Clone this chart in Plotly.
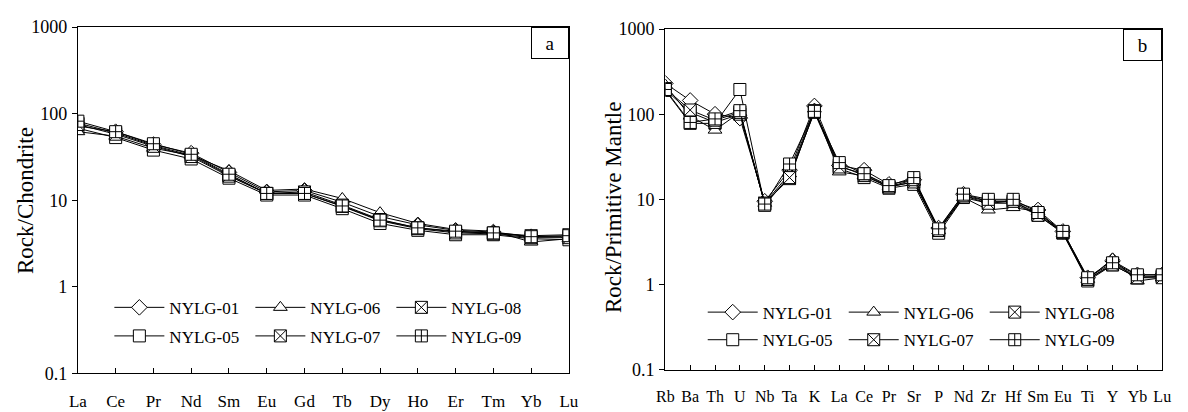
import plotly.graph_objects as go

W, H = 1188, 412

ree = ["La", "Ce", "Pr", "Nd", "Sm", "Eu", "Gd", "Tb", "Dy", "Ho", "Er", "Tm", "Yb", "Lu"]
ree_01 = [72, 62, 44, 35, 21, 12.5, 13, 9.5, 6.5, 5.2, 4.5, 4.3, 3.8, 3.8]
ree_05 = [68, 53, 38, 30, 18, 11.5, 11.5, 8.0, 5.4, 4.5, 4.0, 4.0, 3.6, 3.5]
ree_06 = [62, 55, 40, 33, 22, 13, 13.5, 10.5, 7.2, 5.4, 4.6, 4.4, 3.3, 3.6]
ree_07 = [78, 60, 43, 33, 19.5, 12, 12.5, 8.8, 6.0, 4.8, 4.3, 4.2, 3.9, 4.0]
ree_08 = [75, 58, 42, 32, 19, 12, 12, 8.5, 5.8, 4.7, 4.2, 4.1, 3.7, 3.7]
ree_09 = [82, 62, 45, 34, 20, 12, 12, 8.6, 5.9, 4.8, 4.4, 4.2, 3.8, 3.9]

spd = ["Rb", "Ba", "Th", "U", "Nb", "Ta", "K", "La", "Ce", "Pr", "Sr", "P", "Nd", "Zr", "Hf", "Sm", "Eu", "Ti", "Y", "Yb", "Lu"]
spd_01 = [230, 145, 100, 90, 9.5, 22, 125, 25, 22, 15, 17, 4.6, 11.5, 9.5, 9.5, 7.5, 4.2, 1.2, 1.9, 1.3, 1.3]
spd_05 = [190, 78, 78, 195, 8.5, 19, 105, 23, 18, 13.5, 15, 4.0, 10.5, 9, 9, 6.5, 4.0, 1.1, 1.7, 1.2, 1.25]
spd_06 = [220, 95, 65, 105, 9, 20, 115, 21, 19, 14, 16, 4.3, 10.5, 7.5, 8, 7.2, 4.0, 1.15, 2.0, 1.1, 1.2]
spd_07 = [195, 105, 80, 100, 9, 17.5, 110, 25, 19, 14, 16, 4.4, 11, 9.5, 9.5, 6.8, 4.1, 1.15, 1.75, 1.25, 1.25]
spd_08 = [200, 112, 85, 105, 9, 18, 108, 24, 20, 14, 17, 4.3, 11, 9, 9.5, 6.5, 4.1, 1.15, 1.7, 1.2, 1.2]
spd_09 = [195, 80, 88, 110, 8.8, 26, 108, 27, 20, 14.5, 18, 4.5, 11.5, 10, 10, 7, 4.2, 1.2, 1.8, 1.3, 1.3]

samples = ["NYLG-01", "NYLG-05", "NYLG-06", "NYLG-07", "NYLG-08", "NYLG-09"]
symbols = ["diamond", "square", "triangle-up", "square-x", "square-x", "square-cross"]
# legend row: first row holds 01, 06, 08 ; second row 05, 07, 09
row_of = [0, 1, 0, 1, 0, 1]
ree_sets = [ree_01, ree_05, ree_06, ree_07, ree_08, ree_09]
spd_sets = [spd_01, spd_05, spd_06, spd_07, spd_08, spd_09]

FONT = "Liberation Serif, Times New Roman, serif"
fig = go.Figure()

for i, name in enumerate(samples):
    fig.add_trace(go.Scatter(
        x=ree, y=ree_sets[i], name=name, mode="lines+markers",
        line=dict(color="black", width=1),
        marker=dict(symbol=symbols[i], size=12, color="white", line=dict(color="black", width=1)),
        xaxis="x", yaxis="y", legend="legend" if row_of[i] == 0 else "legend2",
    ))
for i, name in enumerate(samples):
    fig.add_trace(go.Scatter(
        x=spd, y=spd_sets[i], name=name, mode="lines+markers",
        line=dict(color="black", width=1),
        marker=dict(symbol=symbols[i], size=12, color="white", line=dict(color="black", width=1)),
        xaxis="x2", yaxis="y2", legend="legend3" if row_of[i] == 0 else "legend4",
    ))

def px_x(p):
    return p / W

def px_y(p):
    return 1 - p / H

yticks = [0.1, 1, 10, 100, 1000]
ytext = ["0.1", "1", "10", "100", "1000"]

common_x = dict(type="category", showline=True, linecolor="black", linewidth=1.3, mirror=True,
                ticks="inside", ticklen=5, tickcolor="black", showgrid=False, zeroline=False,
                ticklabelstandoff=12,
                tickfont=dict(family=FONT, size=17, color="black"))
common_y = dict(type="log", range=[-1, 3], showline=True, linecolor="black", linewidth=1.3, mirror=True,
                ticks="outside", ticklen=5, tickcolor="black", showgrid=False, zeroline=False,
                tickvals=yticks, ticktext=ytext, ticklabelstandoff=1,
                tickfont=dict(family=FONT, size=18, color="black"))

fig.update_layout(
    width=W, height=H, margin=dict(l=0, r=0, t=0, b=0),
    paper_bgcolor="white", plot_bgcolor="white",
    showlegend=True,
    xaxis=dict(common_x, domain=[px_x(70), px_x(569)], range=[0, 13], anchor="y"),
    yaxis=dict(common_y, domain=[px_y(382), px_y(18)], anchor="x"),
    xaxis2=dict(common_x, domain=[px_x(667), px_x(1172)], range=[0, 20], anchor="y2",
                tickfont=dict(family=FONT, size=16, color="black")),
    yaxis2=dict(common_y, domain=[px_y(378), px_y(20)], anchor="x2"),
)

leg = dict(orientation="h", xanchor="left", yanchor="middle", bgcolor="rgba(0,0,0,0)",
           entrywidthmode="pixels", entrywidth=76, itemwidth=50,
           font=dict(family=FONT, size=17, color="black"))
fig.update_layout(
    legend=dict(leg, x=px_x(102), y=px_y(313)),
    legend2=dict(leg, x=px_x(102), y=px_y(343)),
    legend3=dict(leg, x=px_x(705), y=px_y(318)),
    legend4=dict(leg, x=px_x(705), y=px_y(347)),
)

fig.add_annotation(text="Rock/Chondrite", xref="paper", yref="paper", x=px_x(17), y=px_y(200),
                   textangle=-90, showarrow=False, xanchor="center", yanchor="middle",
                   font=dict(family=FONT, size=23, color="black"))
fig.add_annotation(text="Rock/Primitive Mantle", xref="paper", yref="paper", x=px_x(615), y=px_y(208),
                   textangle=-90, showarrow=False, xanchor="center", yanchor="middle",
                   font=dict(family=FONT, size=23, color="black"))

fig.add_annotation(text="a", xref="paper", yref="paper", x=px_x(569), y=px_y(18),
                   xanchor="right", yanchor="top", showarrow=False, width=34, height=28,
                   bordercolor="black", borderwidth=1, borderpad=1, bgcolor="white",
                   font=dict(family=FONT, size=19, color="black"))
fig.add_annotation(text="b", xref="paper", yref="paper", x=px_x(1172), y=px_y(20),
                   xanchor="right", yanchor="top", showarrow=False, width=35, height=28,
                   bordercolor="black", borderwidth=1, borderpad=1, bgcolor="white",
                   font=dict(family=FONT, size=19, color="black"))

fig.write_html("out.html")
